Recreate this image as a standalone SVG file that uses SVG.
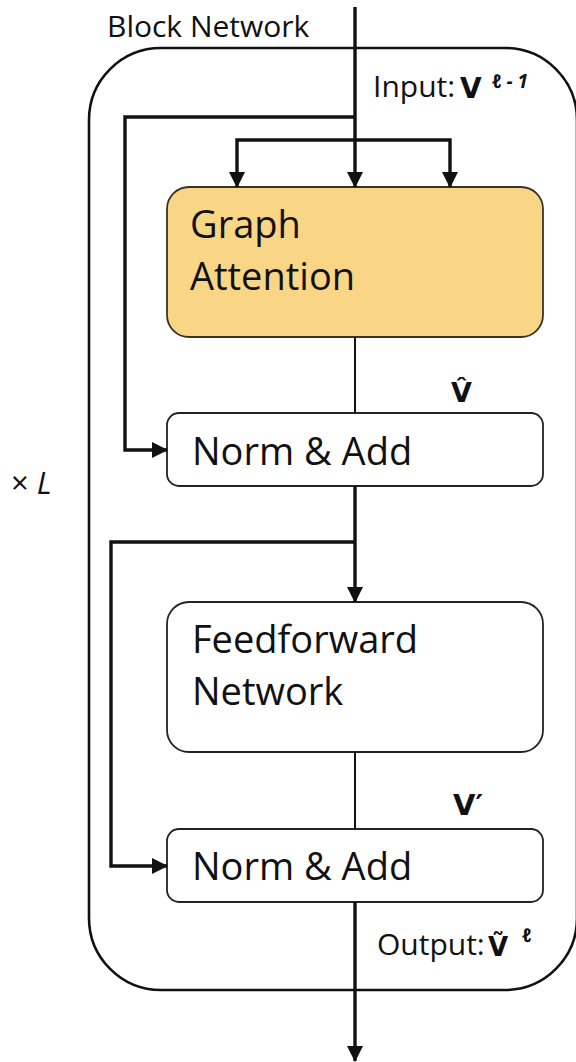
<svg xmlns="http://www.w3.org/2000/svg" width="576" height="1062" viewBox="0 0 576 1062">
  <style>
    .lbl { font-family: "Open Sans", "Liberation Sans", sans-serif; fill: #111; }
    .big { font-size: 38px; }
    .mid { font-size: 30px; }
    .sym { font-family: "DejaVu Sans", "Open Sans", sans-serif; font-weight: bold; fill: #111; }
    .box { fill: #fff; stroke: #222; stroke-width: 1.8; }
    .thick { fill: none; stroke: #111; stroke-width: 3.4; stroke-linejoin: miter; }
    .thin { fill: none; stroke: #111; stroke-width: 2; }
  </style>
  <defs>
    <marker id="arr" markerUnits="userSpaceOnUse" markerWidth="16" markerHeight="16" refX="15" refY="8" orient="auto">
      <path d="M0,0 L16,8 L0,16 z" fill="#111"/>
    </marker>
  </defs>
  <rect width="576" height="1062" fill="#fff"/>

  <g id="block-network">
    <rect x="89" y="48" width="488" height="942" rx="72" ry="72" fill="none" stroke="#111" stroke-width="2.6"/>
    <text class="lbl mid" x="107" y="37">Block Network</text>
  </g>

  <g id="repeat-label">
    <text class="lbl" x="11" y="494" font-size="31">× <tspan font-style="italic">L</tspan></text>
  </g>

  <g id="graph-attention">
    <rect x="167" y="187" width="376" height="150" rx="22" ry="22" fill="#F8D685" stroke="#3a3325" stroke-width="1.8"/>
    <text class="lbl big" x="190" y="238">Graph</text>
    <text class="lbl big" x="190" y="290">Attention</text>
  </g>

  <g id="norm-add-1">
    <rect class="box" x="167" y="413" width="376" height="73" rx="12" ry="12"/>
    <text class="lbl big" x="192" y="465">Norm &amp; Add</text>
  </g>

  <g id="feedforward">
    <rect class="box" x="167" y="602" width="376" height="150" rx="22" ry="22"/>
    <text class="lbl big" x="192" y="653">Feedforward</text>
    <text class="lbl big" x="192" y="705">Network</text>
  </g>

  <g id="norm-add-2">
    <rect class="box" x="167" y="829" width="376" height="73" rx="12" ry="12"/>
    <text class="lbl big" x="192" y="880">Norm &amp; Add</text>
  </g>

  <g id="connectors">
    <path class="thick" d="M355,7 V187" marker-end="url(#arr)"/>
    <path class="thick" d="M355,140 H237 V187" marker-end="url(#arr)"/>
    <path class="thick" d="M355,140 H450 V187" marker-end="url(#arr)"/>
    <path class="thick" d="M355,117 H125 V450 H167" marker-end="url(#arr)"/>
    <path class="thin" d="M355,337 V413"/>
    <path class="thick" d="M355,486 V602" marker-end="url(#arr)"/>
    <path class="thick" d="M355,542 H111 V866 H167" marker-end="url(#arr)"/>
    <path class="thin" d="M355,752 V829"/>
    <path class="thick" d="M355,902 V1061" marker-end="url(#arr)"/>
  </g>

  <g id="labels">
    <text class="lbl mid" x="373" y="97">Input:</text>
    <text class="sym" x="460" y="98" font-size="28">V</text>
    <text class="lbl" x="492" y="88" font-size="19" font-style="italic" font-weight="bold">ℓ - 1</text>

    <text class="sym" x="451" y="402" font-size="27">V̂</text>
    <text class="sym" x="453" y="815" font-size="29">V′</text>

    <text class="lbl mid" x="377" y="955">Output:</text>
    <text class="sym" x="488" y="956" font-size="26">Ṽ</text>
    <text class="lbl" x="522" y="942" font-size="19" font-style="italic" font-weight="bold">ℓ</text>
  </g>
</svg>
